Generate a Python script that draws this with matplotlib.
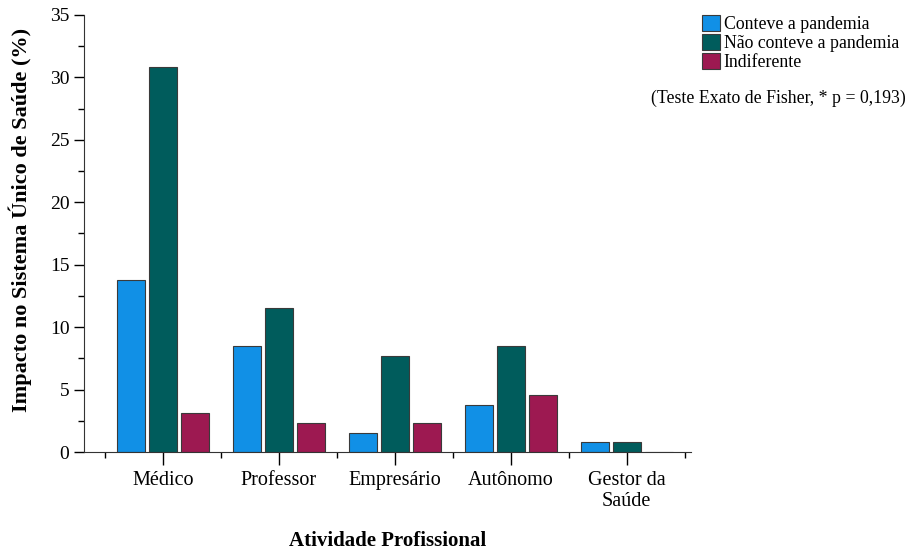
import numpy as np
import matplotlib
matplotlib.use('Agg')
import matplotlib.pyplot as plt
from matplotlib.ticker import MultipleLocator, FixedLocator

plt.rcParams['font.family'] = ['Liberation Serif', 'DejaVu Serif']

categorias = ['Médico', 'Professor', 'Empresário', 'Autônomo', 'Gestor da\nSaúde']
conteve = [13.8, 8.5, 1.5, 3.8, 0.8]
nao_conteve = [30.8, 11.5, 7.7, 8.5, 0.8]
indiferente = [3.1, 2.3, 2.3, 4.6, 0.0]
series_nomes = ['Conteve a pandemia', 'Não conteve a pandemia', 'Indiferente']
cores = ['#1190E6', '#005C5C', '#9D1951']

fig = plt.figure(figsize=(9.08, 5.5), dpi=100)
ax = fig.add_axes([0.0925, 0.178, 0.668, 0.795])

x = np.arange(len(categorias))
largura = 0.24
passo = 0.275
for i, (vals, nome, cor) in enumerate(zip([conteve, nao_conteve, indiferente], series_nomes, cores)):
    ax.bar(x + (i - 1) * passo, vals, largura, color=cor, edgecolor='#3a3a3a',
           linewidth=0.8, label=nome)

ax.set_xlim(-0.68, 4.55)
ax.set_ylim(0, 35)
ax.set_xticks(x)
ax.set_xticklabels(categorias, fontsize=14.5, linespacing=1.15)
ax.xaxis.set_minor_locator(FixedLocator(np.arange(-0.5, 5, 1)))
ax.yaxis.set_major_locator(MultipleLocator(5))
ax.yaxis.set_minor_locator(MultipleLocator(2.5))
ax.tick_params(axis='y', labelsize=14, length=7, width=1)
ax.tick_params(axis='y', which='minor', length=4, width=1)
ax.tick_params(axis='x', length=9.5, width=1, pad=4)
ax.tick_params(axis='x', which='minor', length=4.5, width=1)

for s in ['top', 'right']:
    ax.spines[s].set_visible(False)
for s in ['left', 'bottom']:
    ax.spines[s].set_color('#333333')

ax.set_ylabel('Impacto no Sistema Único de Saúde (%)', fontsize=16, fontweight='bold')
ax.yaxis.set_label_coords(-0.085, 0.53)
ax.set_xlabel('Atividade Profissional', fontsize=15, fontweight='bold')
ax.xaxis.set_label_coords(0.5, -0.18)

fig.legend(loc='upper right', bbox_to_anchor=(0.998, 0.985), frameon=False, fontsize=12.8,
           handlelength=1.0, handleheight=1.0, handletextpad=0.2, labelspacing=0.05,
           borderaxespad=0)
fig.text(0.998, 0.822, '(Teste Exato de Fisher, * p = 0,193)', ha='right', va='center',
         fontsize=12.8)

fig.savefig('out.png', dpi=100)
